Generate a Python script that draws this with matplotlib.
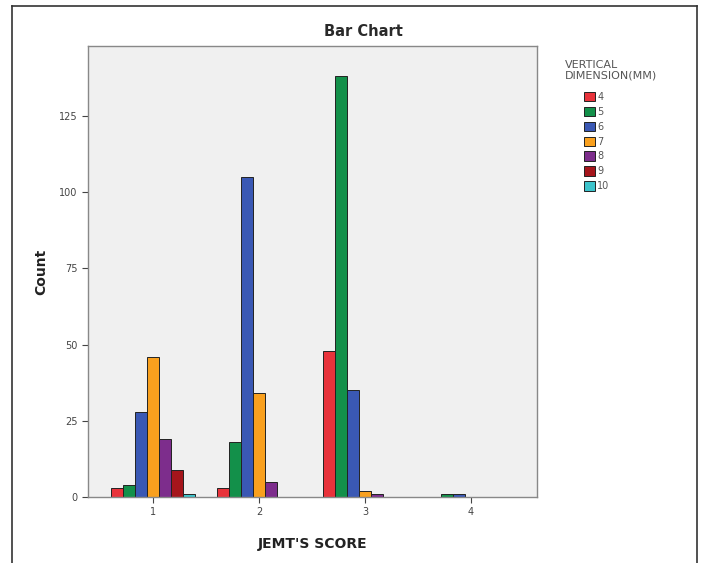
import numpy as np
import matplotlib.pyplot as plt
from matplotlib.lines import Line2D

# data
scores = [1, 2, 3, 4]
dims = ['4', '5', '6', '7', '8', '9', '10']
counts = {
    '4':  [3, 3, 48, 0],
    '5':  [4, 18, 138, 1],
    '6':  [28, 105, 35, 1],
    '7':  [46, 34, 2, 0],
    '8':  [19, 5, 1, 0],
    '9':  [9, 0, 0, 0],
    '10': [1, 0, 0, 0],
}
colors = ['#E8333B', '#13904A', '#3A58B4', '#F9A01E', '#7D2D8C', '#A5151B', '#3CC3CB']

fig = plt.figure(figsize=(7.06, 5.63), dpi=100)
ax = fig.add_axes([88/706, 66/563, 449/706, 451/563])
ax.set_facecolor('#F0F0F0')

w = 0.113
x = np.array(scores, dtype=float)
for i, d in enumerate(dims):
    vals = np.array(counts[d])
    off = (i - 3) * w
    ax.bar(x + off, vals, width=w, color=colors[i], edgecolor='#222222',
           linewidth=0.7, label=d)

ax.set_xlim(0.387, 4.623)
ax.set_ylim(0, 148)
ax.set_xticks(scores)
ax.set_yticks([0, 25, 50, 75, 100, 125])
ax.tick_params(axis='both', labelsize=7, colors='#444444', length=4, width=0.8)
for s in ax.spines.values():
    s.set_color('#888888')
    s.set_linewidth(1.0)

fig.text(363/706, 1 - 32/563, 'Bar Chart', fontsize=10.5, fontweight='bold',
         color='#2a2a2a', ha='center', va='center')
ax.set_ylabel('Count', fontsize=10, fontweight='bold', color='#222222', labelpad=8)
ax.set_xlabel("JEMT'S SCORE", fontsize=10, fontweight='bold', color='#222222', labelpad=14)

# legend title drawn separately so it can sit left of the swatches
fig.text(611/706, 1 - 70/563, 'VERTICAL\nDIMENSION(MM)', fontsize=8, color='#555555',
         ha='center', va='center', linespacing=1.0, multialignment='left')
leg = fig.legend(loc='upper left', bbox_to_anchor=(584/706, 1 - 92/563),
                 frameon=False, fontsize=7, handlelength=1.15, handleheight=1.1,
                 handletextpad=0.2, labelspacing=0.5, borderpad=0, borderaxespad=0)
for t in leg.get_texts():
    t.set_color('#555555')

# outer frame
fig.add_artist(Line2D([12/706, 12/706], [0, 1 - 6/563], transform=fig.transFigure, color='#333333', lw=1.2))
fig.add_artist(Line2D([12/706, 697/706], [1 - 6/563, 1 - 6/563], transform=fig.transFigure, color='#333333', lw=1.2))
fig.add_artist(Line2D([697/706, 697/706], [0, 1 - 6/563], transform=fig.transFigure, color='#333333', lw=1.2))

fig.savefig('out.png', dpi=100)
